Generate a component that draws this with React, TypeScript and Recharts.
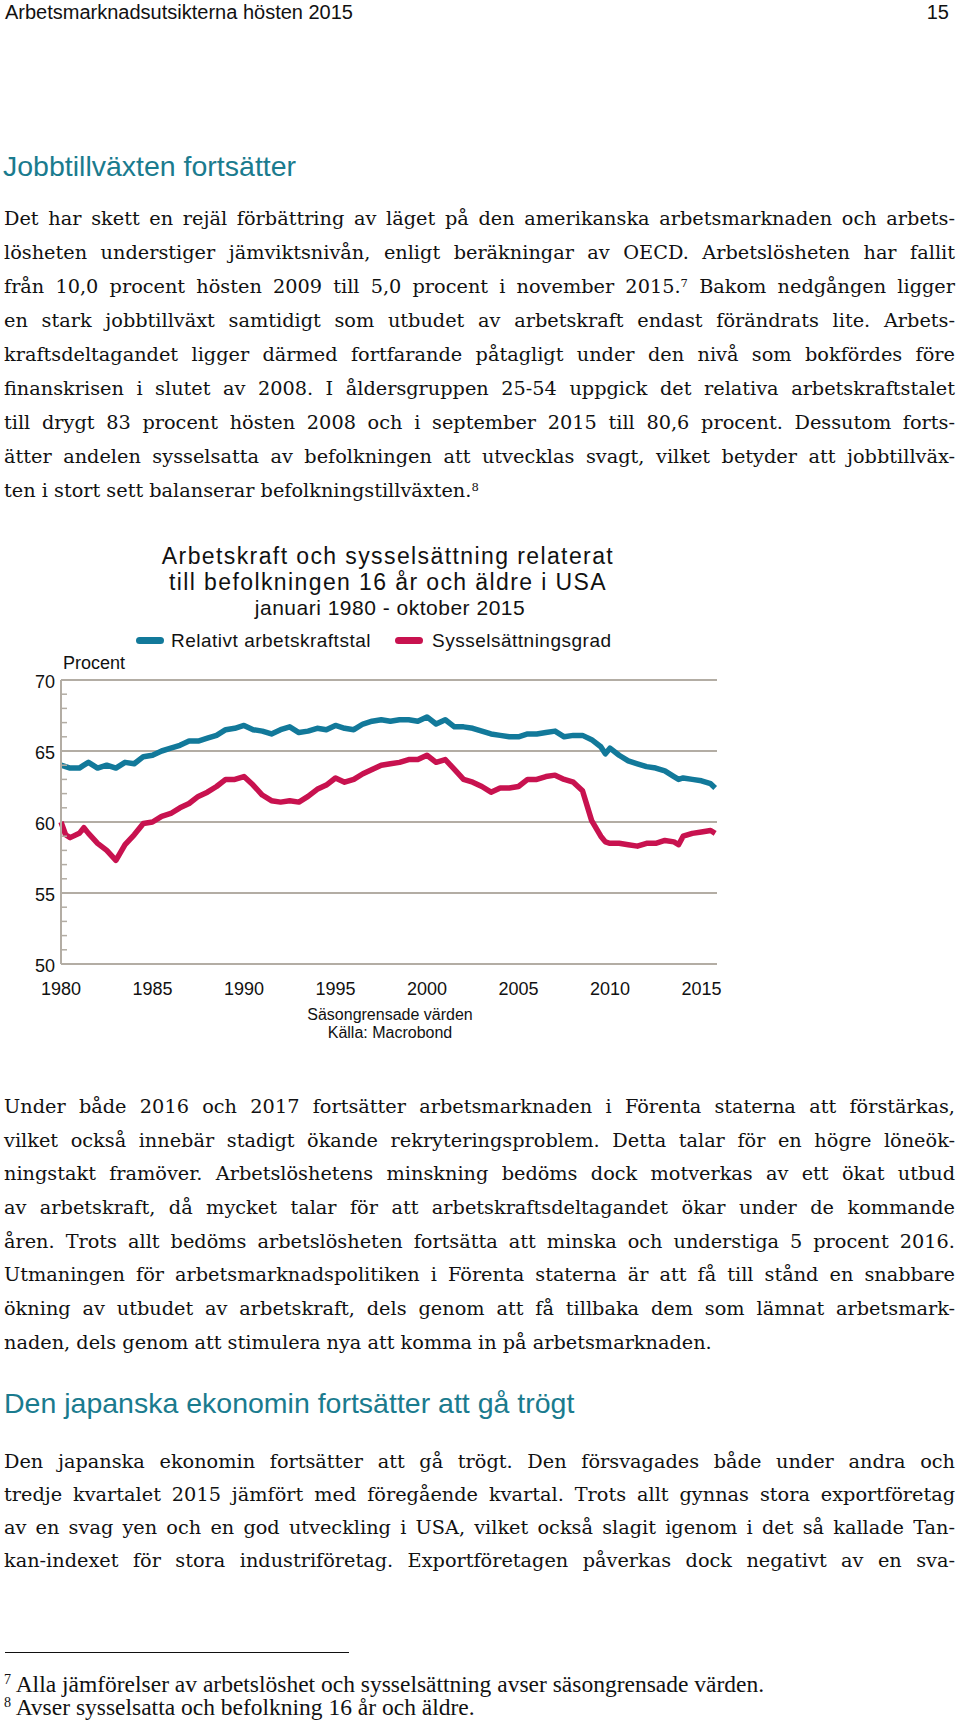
import React from "react";
import { LineChart, Line, XAxis, YAxis, CartesianGrid } from "recharts";

// time axis (decimal years)
const years = [
  1980, 1980.25, 1980.5, 1981, 1981.25, 1981.5, 1982, 1982.5, 1983, 1983.5,
  1984, 1984.5, 1985, 1985.5, 1986, 1986.5, 1987, 1987.5, 1988, 1988.5,
  1989, 1989.5, 1990, 1990.5, 1991, 1991.5, 1992, 1992.5, 1993, 1993.5,
  1994, 1994.5, 1995, 1995.5, 1996, 1996.5, 1997, 1997.5, 1998, 1998.5,
  1999, 1999.5, 2000, 2000.5, 2001, 2001.5, 2002, 2002.5, 2003, 2003.5,
  2004, 2004.5, 2005, 2005.5, 2006, 2006.5, 2007, 2007.5, 2008, 2008.5,
  2009, 2009.5, 2009.75, 2010, 2010.5, 2011, 2011.5, 2012, 2012.5, 2013,
  2013.5, 2013.75, 2014, 2014.5, 2015, 2015.5, 2015.75,
];

// Relativt arbetskraftstal
const arbetskraftstal = [
  64.0, 63.9, 63.8, 63.8, 64.0, 64.2, 63.8, 64.0, 63.8, 64.2,
  64.1, 64.6, 64.7, 65.0, 65.2, 65.4, 65.7, 65.7, 65.9, 66.1,
  66.5, 66.6, 66.8, 66.5, 66.4, 66.2, 66.5, 66.7, 66.3, 66.4,
  66.6, 66.5, 66.8, 66.6, 66.5, 66.9, 67.1, 67.2, 67.1, 67.2,
  67.2, 67.1, 67.4, 66.9, 67.2, 66.7, 66.7, 66.6, 66.4, 66.2,
  66.1, 66.0, 66.0, 66.2, 66.2, 66.3, 66.4, 66.0, 66.1, 66.1,
  65.8, 65.3, 64.8, 65.2, 64.7, 64.3, 64.1, 63.9, 63.8, 63.6,
  63.2, 63.0, 63.1, 63.0, 62.9, 62.7, 62.4,
];

// Sysselsättningsgrad
const sysselsattningsgrad = [
  60.0, 59.1, 58.9, 59.2, 59.6, 59.2, 58.5, 58.0, 57.3, 58.4,
  59.1, 59.9, 60.0, 60.4, 60.6, 61.0, 61.3, 61.8, 62.1, 62.5,
  63.0, 63.0, 63.2, 62.6, 61.9, 61.5, 61.4, 61.5, 61.4, 61.8,
  62.3, 62.6, 63.1, 62.8, 63.0, 63.4, 63.7, 64.0, 64.1, 64.2,
  64.4, 64.4, 64.7, 64.2, 64.4, 63.7, 63.0, 62.8, 62.5, 62.1,
  62.4, 62.4, 62.5, 63.0, 63.0, 63.2, 63.3, 63.0, 62.8, 62.2,
  60.1, 59.0, 58.6, 58.5, 58.5, 58.4, 58.3, 58.5, 58.5, 58.7,
  58.6, 58.4, 59.0, 59.2, 59.3, 59.4, 59.2,
];

const xTicks = [1980, 1985, 1990, 1995, 2000, 2005, 2010, 2015];
const yTicks = [50, 51, 52, 53, 54, 55, 56, 57, 58, 59, 60, 61, 62, 63, 64, 65, 66, 67, 68, 69, 70];
const gridValues = [55, 60, 65, 70];

const data = years.map((year, i) => ({
  year,
  lf: arbetskraftstal[i],
  emp: sysselsattningsgrad[i],
}));

const BLUE = "#12799a";
const RED = "#c8124f";
const GRID = "#b3ada4";
const TEAL = "#1a7b8e";
const SANS = '"Liberation Sans", Arial, sans-serif';
const SERIF = '"DejaVu Serif", Georgia, serif';
const FOOT = '"Liberation Serif", "Times New Roman", serif';

const para1 = [
  "Det har skett en rejäl förbättring av läget på den amerikanska arbetsmarknaden och arbets-",
  "lösheten understiger jämviktsnivån, enligt beräkningar av OECD. Arbetslösheten har fallit",
  "från 10,0 procent hösten 2009 till 5,0 procent i november 2015.^7 Bakom nedgången ligger",
  "en stark jobbtillväxt samtidigt som utbudet av arbetskraft endast förändrats lite. Arbets-",
  "kraftsdeltagandet ligger därmed fortfarande påtagligt under den nivå som bokfördes före",
  "finanskrisen i slutet av 2008. I åldersgruppen 25-54 uppgick det relativa arbetskraftstalet",
  "till drygt 83 procent hösten 2008 och i september 2015 till 80,6 procent. Dessutom forts-",
  "ätter andelen sysselsatta av befolkningen att utvecklas svagt, vilket betyder att jobbtillväx-",
  "ten i stort sett balanserar befolkningstillväxten.^8",
];

const para2 = [
  "Under både 2016 och 2017 fortsätter arbetsmarknaden i Förenta staterna att förstärkas,",
  "vilket också innebär stadigt ökande rekryteringsproblem. Detta talar för en högre löneök-",
  "ningstakt framöver. Arbetslöshetens minskning bedöms dock motverkas av ett ökat utbud",
  "av arbetskraft, då mycket talar för att arbetskraftsdeltagandet ökar under de kommande",
  "åren. Trots allt bedöms arbetslösheten fortsätta att minska och understiga 5 procent 2016.",
  "Utmaningen för arbetsmarknadspolitiken i Förenta staterna är att få till stånd en snabbare",
  "ökning av utbudet av arbetskraft, dels genom att få tillbaka dem som lämnat arbetsmark-",
  "naden, dels genom att stimulera nya att komma in på arbetsmarknaden.",
];

const para3 = [
  "Den japanska ekonomin fortsätter att gå trögt. Den försvagades både under andra och",
  "tredje kvartalet 2015 jämfört med föregående kvartal. Trots allt gynnas stora exportföretag",
  "av en svag yen och en god utveckling i USA, vilket också slagit igenom i det så kallade Tan-",
  "kan-indexet för stora industriföretag. Exportföretagen påverkas dock negativt av en sva-",
];

const footnotes = [
  "^7 Alla jämförelser av arbetslöshet och sysselsättning avser säsongrensade värden.",
  "^8 Avser sysselsatta och befolkning 16 år och äldre.",
];

const withSup = (s: string) =>
  s.split(/\^(\d)/).map((part, i) =>
    i % 2 === 1 ? (
      <span key={i} style={{ fontSize: "0.6em", position: "relative", top: "-0.55em" }}>
        {part}
      </span>
    ) : (
      <React.Fragment key={i}>{part}</React.Fragment>
    )
  );

// positions a single line of text by its baseline
const Txt = ({
  baseline, size, left = 0, width, align = "left", family = SANS, color = "#111",
  spacing = 0, children,
}: any) => (
  <div
    style={{
      position: "absolute",
      top: baseline - 0.94 * size,
      left,
      width,
      fontFamily: family,
      fontSize: size,
      lineHeight: 1.2,
      color,
      letterSpacing: spacing,
      textAlign: align,
      textAlignLast: align,
      whiteSpace: align === "justify" ? "normal" : "nowrap",
    }}
  >
    {children}
  </div>
);

const Paragraph = ({ lines, first, step, justifyLast }: any) => (
  <>
    {lines.map((l: string, i: number) => (
      <Txt
        key={i}
        baseline={first + i * step}
        size={19.3}
        left={4}
        width={951}
        family={SERIF}
        align={i < lines.length - 1 || justifyLast ? "justify" : "left"}
      >
        {withSup(l)}
      </Txt>
    ))}
  </>
);

const YTick = (props: any) => {
  const { x, y, payload } = props;
  const v = payload.value;
  if (v % 5 === 0) {
    return (
      <text x={x - 6} y={y + 1.5} dy="0.36em" textAnchor="end" fontSize={18} fill="#111" fontFamily={SANS}>
        {v}
      </text>
    );
  }
  return <line x1={x} x2={x + 6} y1={y} y2={y} stroke={GRID} strokeWidth={1.5} />;
};

const Marker = ({ left, color }: any) => (
  <div
    style={{
      position: "absolute", left, top: 636.5, width: 28, height: 7,
      borderRadius: 4, background: color,
    }}
  />
);

export default function App() {
  return (
    <div style={{ position: "relative", width: 960, height: 1726, background: "#fff", overflow: "hidden" }}>
      <style>{`body{margin:0}`}</style>

      <Txt baseline={19} size={20} left={5}>Arbetsmarknadsutsikterna hösten 2015</Txt>
      <Txt baseline={19} size={20} left={849} width={100} align="right">15</Txt>

      <Txt baseline={176} size={28.5} left={3} color={TEAL}>Jobbtillväxten fortsätter</Txt>
      <Paragraph lines={para1} first={225.5} step={34} />

      {/* chart heading and legend */}
      <Txt baseline={565} size={23} left={0} width={776} align="center" spacing={1.4}>
        Arbetskraft och sysselsättning relaterat
      </Txt>
      <Txt baseline={591} size={23} left={0} width={776} align="center" spacing={1.4}>
        till befolkningen 16 år och äldre i USA
      </Txt>
      <Txt baseline={614.5} size={21} left={0} width={780} align="center" spacing={0.5}>
        januari 1980 - oktober 2015
      </Txt>
      <Marker left={136} color={BLUE} />
      <Txt baseline={647.5} size={19} left={171} spacing={0.5}>Relativt arbetskraftstal</Txt>
      <Marker left={395} color={RED} />
      <Txt baseline={647.5} size={19} left={432} spacing={0.5}>Sysselsättningsgrad</Txt>
      <Txt baseline={670} size={18} left={63}>Procent</Txt>

      <div style={{ position: "absolute", left: 0, top: 660 }}>
        <LineChart
          width={740}
          height={340}
          data={data}
          margin={{ top: 20, right: 23, bottom: 6, left: 0 }}
          style={{ fontFamily: SANS }}
        >
          <CartesianGrid horizontalValues={gridValues} vertical={false} stroke={GRID} strokeWidth={2} />
          <XAxis
            dataKey="year"
            type="number"
            domain={[1980, 2015.85]}
            ticks={xTicks}
            height={30}
            tickSize={0}
            tickMargin={18}
            axisLine={{ stroke: GRID, strokeWidth: 2 }}
            tickLine={false}
            tick={{ fontSize: 18, fill: "#111", fontFamily: SANS }}
          />
          <YAxis
            type="number"
            domain={[50, 70]}
            ticks={yTicks}
            width={61}
            tickSize={0}
            tickMargin={0}
            interval={0}
            axisLine={{ stroke: GRID, strokeWidth: 2 }}
            tickLine={false}
            tick={<YTick />}
          />
          <Line
            type="linear"
            dataKey="lf"
            stroke={BLUE}
            strokeWidth={5.5}
            dot={false}
            strokeLinejoin="round"
            isAnimationActive={false}
          />
          <Line
            type="linear"
            dataKey="emp"
            stroke={RED}
            strokeWidth={5.5}
            dot={false}
            strokeLinejoin="round"
            isAnimationActive={false}
          />
        </LineChart>
      </div>

      <Txt baseline={1020} size={16} left={290} width={200} align="center">Säsongrensade värden</Txt>
      <Txt baseline={1038} size={16} left={290} width={200} align="center">Källa: Macrobond</Txt>

      <Paragraph lines={para2} first={1113} step={33.7} />

      <Txt baseline={1413} size={28.5} left={4} color={TEAL}>Den japanska ekonomin fortsätter att gå trögt</Txt>
      <Paragraph lines={para3} first={1468} step={33} justifyLast />

      <div style={{ position: "absolute", left: 5, top: 1652, width: 344, height: 1, background: "#111" }} />
      {footnotes.map((f, i) => (
        <Txt key={i} baseline={1692 + i * 23} size={23.5} left={4} family={FOOT}>
          {withSup(f)}
        </Txt>
      ))}
    </div>
  );
}
